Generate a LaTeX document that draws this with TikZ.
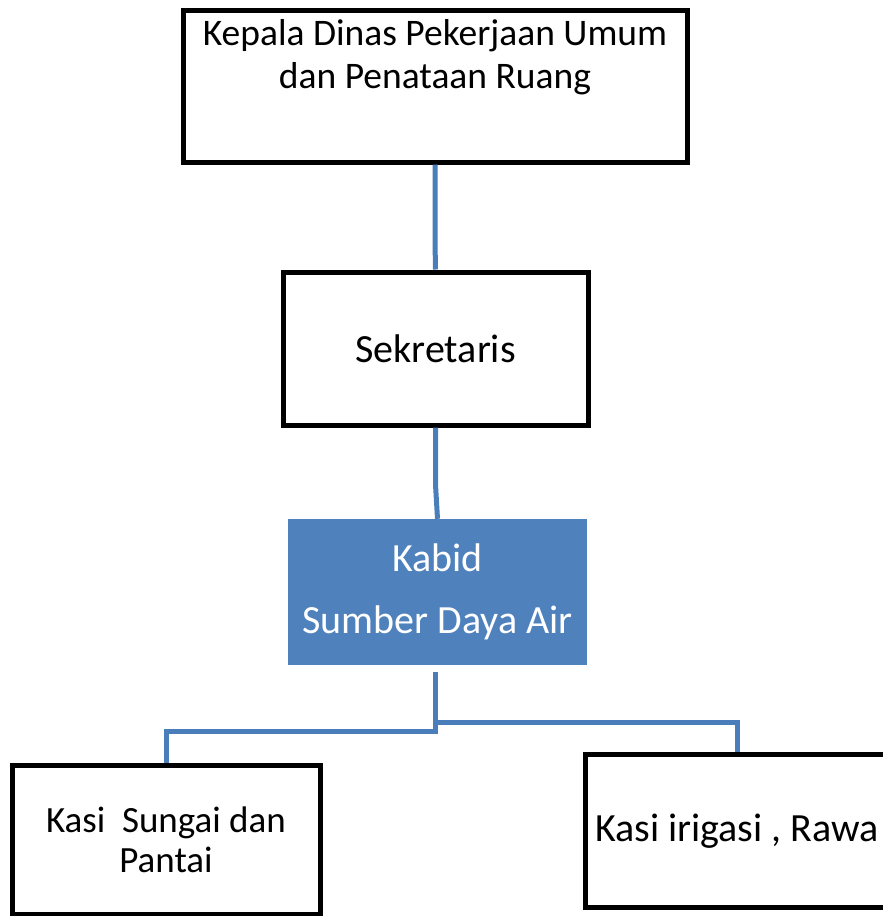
\documentclass[tikz,border=0pt]{standalone}
\usepackage{fontspec}
\setmainfont{Carlito}
\usepackage{xcolor}
\usetikzlibrary{calc}
\definecolor{kabidblue}{HTML}{4F81BD}
\definecolor{linkblue}{HTML}{4A7EBB}
\tikzset{
  box/.style={draw=black, line width=5pt, inner sep=0pt, align=center,
    font=\fontsize{40}{46}\selectfont},
  kabidbox/.style={fill=kabidblue, text=white, inner sep=0pt, align=center,
    font=\fontsize{40}{62}\selectfont},
  link/.style={draw=linkblue, line width=5pt},
  toptext/.style={anchor=north, inner sep=0pt, align=center,
    font=\fontsize{37.5}{43}\selectfont},
}
\begin{document}
\begin{tikzpicture}[x=1pt, y=-1pt]
  \useasboundingbox (0,0) rectangle (883,916);

  \node[box, minimum width=504, minimum height=152,
    label={[toptext, yshift=-12pt]north:{Kepala Dinas Pekerjaan Umum\\dan Penataan Ruang}}]
    (kepala) at (435,86) {};
  \node[box, minimum width=305, minimum height=153] (sekretaris) at (435.5,348.5) {Sekretaris};
  \node[kabidbox, minimum width=299, minimum height=146] (kabid) at (437.5,592) {Kabid\\Sumber Daya Air};
  \node[box, minimum width=308, minimum height=149, font=\fontsize{37}{40}\selectfont]
    (sungai) at (166,840) {Kasi~ Sungai dan\\Pantai};
  \node[box, minimum width=304, minimum height=153] (rawa) at (737,831) {Kasi irigasi , Rawa};

  \coordinate (forkL) at (435,731);
  \coordinate (forkR) at (435,722);

  \draw[link] (kepala.south) -- ++(0,77) -- (sekretaris.north);
  \draw[link] (sekretaris.south) -- ++(0,57) -- (kabid.north);
  \draw[link] ($(forkL |- kabid.south)+(0,7)$) -- (forkL) -| (sungai.north);
  \draw[link] (forkR) -| (rawa.north);
\end{tikzpicture}
\end{document}
